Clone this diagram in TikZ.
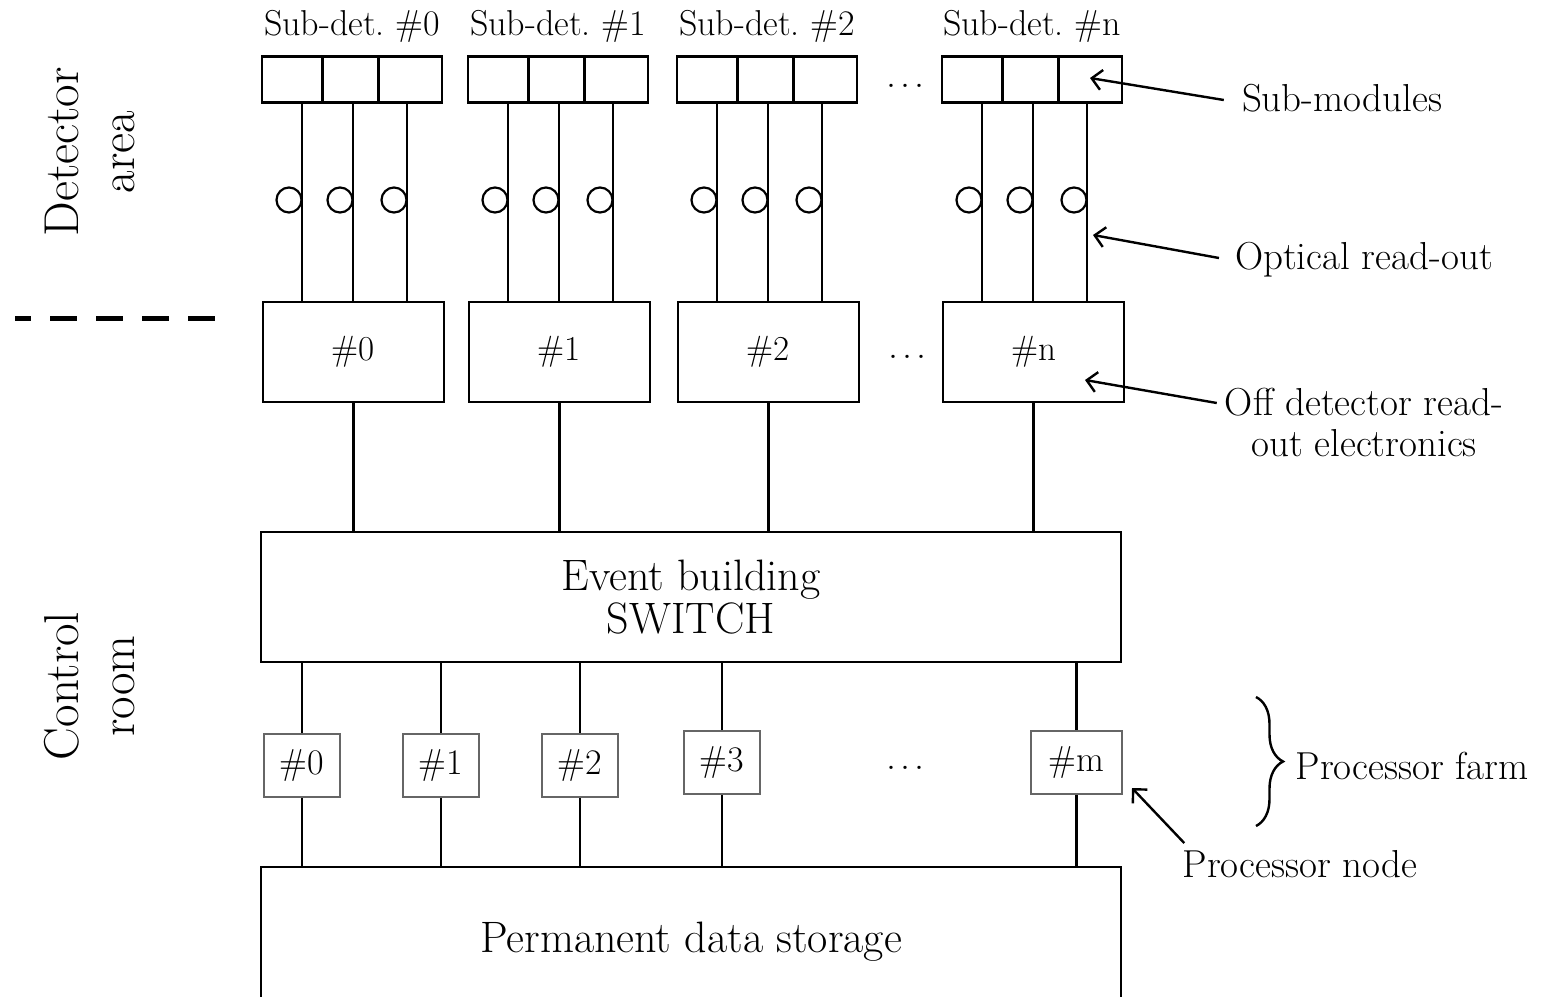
\documentclass[tikz,border=0pt]{standalone}
\usetikzlibrary{arrows.meta,calc,decorations.pathreplacing}
\newcommand{\gapdots}{.\kern4pt.\kern4pt.}
\begin{document}
\begin{tikzpicture}[x=1pt,y=-1pt,
  font=\fontsize{39}{41}\selectfont,
  cellbox/.style={draw,line width=2.6pt,minimum width=180pt,minimum height=46pt,inner sep=0pt},
  robox/.style={draw,line width=2.6pt,minimum width=181pt,minimum height=100pt,inner sep=0pt,font=\fontsize{35}{41}\selectfont},
  bigbox/.style={draw,line width=2.6pt,minimum width=860pt,align=center,inner sep=0pt,font=\fontsize{44}{43}\selectfont},
  procbox/.style={draw=black!60,line width=2pt,minimum height=63pt,inner sep=0pt,font=\fontsize{36}{41}\selectfont},
  headlbl/.style={inner sep=0pt,font=\fontsize{36}{41}\selectfont},
  wire/.style={line width=2.2pt},
  fibre/.style={draw,line width=2.2pt,circle,minimum size=25pt,inner sep=0pt},
  arr/.style={line width=2.4pt,-{Straight Barb[length=10pt,width=20pt,line width=2.4pt]}},
  note/.style={inner sep=0pt,align=center},
  etc/.style={inner sep=0pt,font=\fontsize{40}{41}\selectfont},
  side/.style={rotate=90,align=center,inner sep=0pt,font=\fontsize{49}{56}\selectfont}]

\useasboundingbox (0,0) rectangle (1541,996);

% area labels and the boundary between them
\node[side] (det) at (90,152) {Detector\\area};
\node[side] (ctl) at (90,686) {Control\\room};
\draw[line width=5pt,dash pattern=on 27pt off 19pt,dash phase=11pt] (15,318) -- (215,318);

% central switch and storage
\node[bigbox,minimum height=130pt] (sw) at (691,597) {Event building\\SWITCH};
\node[bigbox,minimum height=150pt] (st) at (691,942) {Permanent data storage};

% sub-detectors with their optical links and read-out electronics
\foreach \i/\l/\xl in {0/{\#0}/262, 1/{\#1}/468, 2/{\#2}/677, n/{\#n}/942} {
  \node[headlbl] (sdl\i) at (\xl+90,26) {Sub-det.~\l};
  \node[cellbox] (sd\i) at (\xl+90,79.5) {};
  \draw[line width=2.6pt] ($(sd\i.north west)+(62,0)$) -- ($(sd\i.south west)+(62,0)$);
  \draw[line width=2.6pt] ($(sd\i.north west)+(118,0)$) -- ($(sd\i.south west)+(118,0)$);
  \node[robox] (ro\i) at (\xl+91.5,352) {\l};
  \foreach \o in {41,92,146} {
    \draw[wire] ($(sd\i.south west)+(\o,0)$) coordinate (f\i\o) -- (f\i\o |- ro\i.north);
    \node[fibre] (c\i\o) at (\xl+\o-14,200) {};
  }
  \draw[wire] (ro\i.south) -- (ro\i.south |- sw.north);
}
\node[etc] (dt1) at (905,86) {\gapdots};
\node[etc] (dt2) at (907,357) {\gapdots};

% processor farm
\foreach \i/\l/\px/\py/\w in {0/{\#0}/302/765.5/76, 1/{\#1}/441/765.5/76, 2/{\#2}/580/765.5/76,
                              3/{\#3}/722/762.5/76, m/{\#m}/1076.5/762.5/91} {
  \node[procbox,minimum width=\w pt] (pr\i) at (\px,\py) {\l};
  \draw[wire] (pr\i.north |- sw.south) -- (pr\i.north);
  \draw[wire] (pr\i.south) -- (pr\i.south |- st.north);
}
\node[etc] (dt3) at (905,768) {\gapdots};

% annotations
\node[note] (sm) at (1342,98) {Sub-modules};
\node[note] (or) at (1364,260) {Optical read-out};
\node[note] (od) at (1364,422) {Off detector read-\\out electronics};
\node[note] (pf) at (1412,766) {Processor farm};
\node[note] (pn) at (1300,864) {Processor node};

\coordinate (smtip) at (1090,78);
\coordinate (ortip) at (1093,235);
\coordinate (odtip) at (1085,380);
\coordinate (pntip) at (1132,788);

\draw[arr] (sm.west) ++(-18,2) -- (smtip);
\draw[arr] (or.west) ++(-16,-2) -- (ortip);
\draw[arr] (od.west) ++(-8,-19) -- (odtip);
\draw[arr] (pn.north west) ++(2,-7) -- (pntip);

\draw[line width=2.4pt,decorate,decoration={brace,amplitude=27pt,aspect=0.5}] (1256,697) -- (1256,826);
\end{tikzpicture}
\end{document}
